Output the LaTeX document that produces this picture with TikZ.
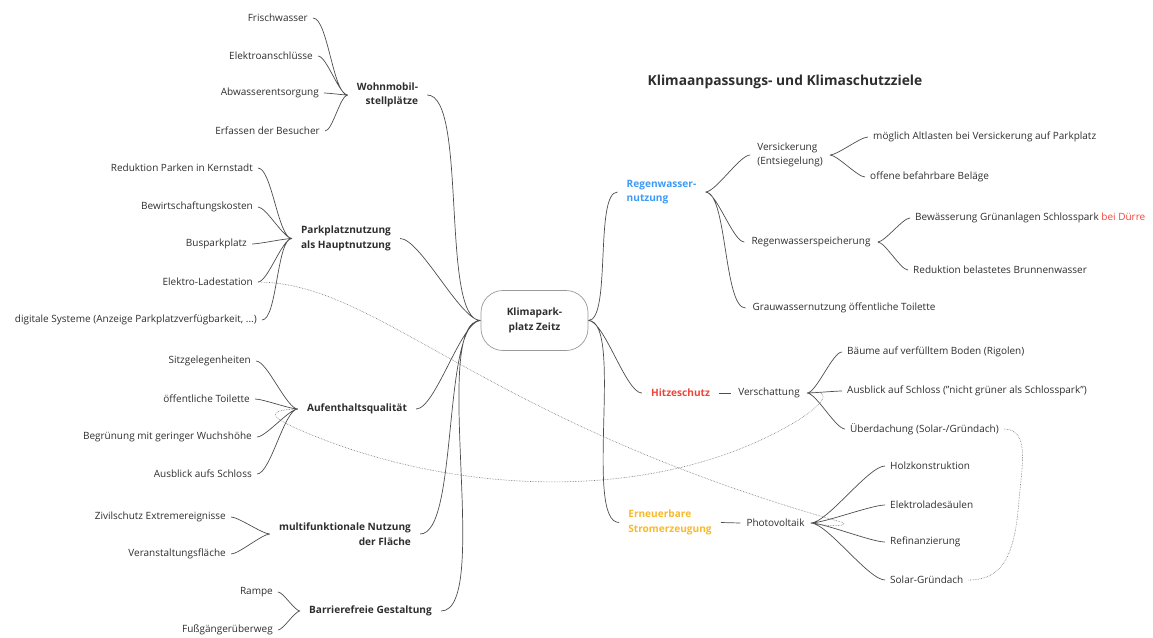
\documentclass[tikz,border=0pt]{standalone}
\usepackage{fontspec}
\setmainfont{Open Sans}
\definecolor{txt}{HTML}{2E2E2E}
\definecolor{edge}{HTML}{4D4D4D}
\definecolor{rainblue}{HTML}{3D9BF5}
\definecolor{heatred}{HTML}{F0443A}
\definecolor{solarorange}{HTML}{F8B92A}
\begin{document}
\begin{tikzpicture}[x=1pt,y=-1pt,
  every node/.style={inner ysep=1pt,text=txt,font=\fontsize{10}{14.5}\selectfont},
  leaf/.style={inner xsep=5pt},
  mid/.style={inner xsep=7pt,align=left},
  topic/.style={inner xsep=9pt,font=\fontsize{10.1}{14.5}\selectfont\bfseries},
  root/.style={draw=black!40,line width=0.7pt,rounded corners=22pt,minimum width=107pt,minimum height=60pt,align=center,font=\fontsize{10.1}{14.5}\selectfont\bfseries},
  link/.style={draw=edge,line width=0.7pt},
  twig/.style={out=0,in=180,looseness=0.45},
  xref/.style={draw=black!55,densely dotted,line width=0.6pt}]
\useasboundingbox (0,0) rectangle (1153,637);
\node[font=\fontsize{13.8}{16}\selectfont\bfseries] (title) at (785,82) {Klimaanpassungs- und Klimaschutzziele};
\node[root] (root) at (534.5,320.5) {Klimapark-\\platz Zeitz};
\node[topic,align=right] (wohn) at (387.5,95) {Wohnmobil-\\stellplätze};
\node[topic,align=left] (park) at (346,238.5) {Parkplatznutzung\\als Hauptnutzung};
\node[topic] (aufent) at (357,409) {Aufenthaltsqualität};
\node[topic,align=right] (multi) at (345,534) {multifunktionale Nutzung\\der Fläche};
\node[topic] (barr) at (370.5,611) {Barrierefreie Gestaltung};
\node[leaf,anchor=east] (fri) at (313,18) {Frischwasser};
\node[leaf,anchor=east] (ela) at (318,56) {Elektroanschlüsse};
\node[leaf,anchor=east] (abw) at (324,93) {Abwasserentsorgung};
\node[leaf,anchor=east] (erf) at (325,131) {Erfassen der Besucher};
\node[leaf,anchor=east] (kern) at (258,168) {Reduktion Parken in Kernstadt};
\node[leaf,anchor=east] (bew) at (258,207) {Bewirtschaftungskosten};
\node[leaf,anchor=east] (bus) at (252,244) {Busparkplatz};
\node[leaf,anchor=east] (eld) at (258,282) {Elektro-Ladestation};
\node[leaf,anchor=east] (dig) at (262,320) {digitale Systeme (Anzeige Parkplatzverfügbarkeit, ...)};
\node[leaf,anchor=east] (sitz) at (256,361) {Sitzgelegenheiten};
\node[leaf,anchor=east] (toil) at (255,399) {öffentliche Toilette};
\node[leaf,anchor=east] (gruen) at (257,437) {Begrünung mit geringer Wuchshöhe};
\node[leaf,anchor=east] (blick) at (257,474) {Ausblick aufs Schloss};
\node[leaf,anchor=east] (ziv) at (231,517) {Zivilschutz Extremereignisse};
\node[leaf,anchor=east] (vera) at (231,554) {Veranstaltungsfläche};
\node[leaf,anchor=east] (ramp) at (278,592) {Rampe};
\node[leaf,anchor=east] (fuss) at (278,630) {Fußgängerüberweg};
\node[topic,align=left,text=rainblue] (regen) at (661.5,192) {Regenwasser-\\nutzung};
\node[topic,text=heatred] (hitze) at (680.5,393) {Hitzeschutz};
\node[topic,align=left,text=solarorange] (strom) at (670,522.5) {Erneuerbare\\Stromerzeugung};
\node[mid] (versi) at (790,155) {Versickerung\\(Entsiegelung)};
\node[mid] (speich) at (811,242) {Regenwasserspeicherung};
\node[mid] (grau) at (844,308) {Grauwassernutzung öffentliche Toilette};
\node[mid] (schatt) at (769,393) {Verschattung};
\node[mid,inner xsep=6pt] (pv) at (775.5,523) {Photovoltaik};
\node[leaf,anchor=west] (alt) at (868,137) {möglich Altlasten bei Versickerung auf Parkplatz};
\node[leaf,anchor=west] (belag) at (865,177) {offene befahrbare Beläge};
\node[leaf,anchor=west] (bewae) at (910,218) {Bewässerung Grünanlagen Schlosspark {\color{heatred}bei Dürre}};
\node[leaf,anchor=west] (brunn) at (908,270) {Reduktion belastetes Brunnenwasser};
\node[leaf,anchor=west] (baeum) at (842,352) {Bäume auf verfülltem Boden (Rigolen)};
\node[leaf,anchor=west] (ausb) at (842,391) {Ausblick auf Schloss ("nicht grüner als Schlosspark")};
\node[leaf,anchor=west] (ueber) at (845,429) {Überdachung (Solar-/Gründach)};
\node[leaf,anchor=west] (holz) at (885,466) {Holzkonstruktion};
\node[leaf,anchor=west] (elsae) at (885,505) {Elektroladesäulen};
\node[leaf,anchor=west] (refi) at (885,542) {Refinanzierung};
\node[leaf,anchor=west] (solgr) at (885,580) {Solar-Gründach};
\draw[link] (fri.east) to[twig] (wohn.west) (ela.east) to[twig] (wohn.west)
  (abw.east) to[twig] (wohn.west) (erf.east) to[twig] (wohn.west);
\draw[link] (kern.east) to[twig] (park.west) (bew.east) to[twig] (park.west)
  (bus.east) to[twig] (park.west) (eld.east) to[twig] (park.west) (dig.east) to[twig] (park.west);
\draw[link] (sitz.east) to[twig] (aufent.west) (toil.east) to[twig] (aufent.west)
  (gruen.east) to[twig] (aufent.west) (blick.east) to[twig] (aufent.west);
\draw[link] (ziv.east) to[twig] (multi.west) (vera.east) to[twig] (multi.west);
\draw[link] (ramp.east) to[twig] (barr.west) (fuss.east) to[twig] (barr.west);
\draw[link] (wohn.east) to[twig] (root.west) (park.east) to[twig] (root.west)
  (aufent.east) to[twig] (root.west) (multi.east) to[twig] (root.west) (barr.east) to[twig] (root.west);
\draw[link] (root.east) to[twig] (regen.west) (root.east) to[twig] (hitze.west) (root.east) to[twig] (strom.west);
\draw[link] (regen.east) to[twig] (versi.west) (regen.east) to[twig] (speich.west) (regen.east) to[twig] (grau.west);
\draw[link] (versi.east) to[twig] (alt.west) (versi.east) to[twig] (belag.west);
\draw[link] (speich.east) to[twig] (bewae.west) (speich.east) to[twig] (brunn.west);
\draw[link] (hitze.east) -- (schatt.west);
\draw[link] (schatt.east) to[twig] (baeum.west) (schatt.east) to[twig] (ausb.west) (schatt.east) to[twig] (ueber.west);
\draw[link] (strom.east) -- (pv.west);
\draw[link] (pv.east) to[twig] (holz.west) (pv.east) to[twig] (elsae.west)
  (pv.east) to[twig] (refi.west) (pv.east) to[twig] (solgr.west);
\draw[xref] (eld.east) .. controls (380,283) and (480,420) .. (841,522) .. controls (851,525) and (835,528) .. (pv.east);
\draw[xref] (aufent.west) .. controls (265,410) and (270,417) .. (300,430) .. controls (450,495) and (650,505) .. (790,425) .. controls (825,405) and (835,388) .. (schatt.east);
\draw[xref] (ueber.east) .. controls (1030,429) and (1022,465) .. (1019,500) .. controls (1015,555) and (1003,580) .. (solgr.east);
\end{tikzpicture}
\end{document}
